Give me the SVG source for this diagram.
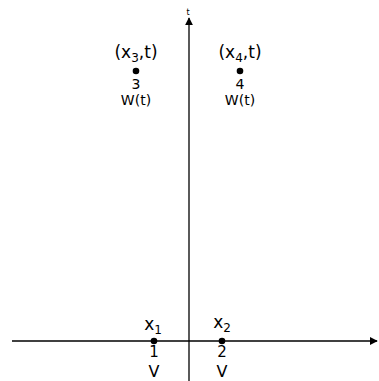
<svg xmlns="http://www.w3.org/2000/svg" width="379" height="381" viewBox="0 0 379 381">
<style>
.ax{stroke:#000;stroke-width:1.3;fill:none}
.lbl{font-family:"DejaVu Sans",sans-serif;fill:#000;text-anchor:middle}
.big{font-size:17px}
.mid{font-size:15px}
.v{font-size:16px}
.sm{font-size:14px}
</style>
<defs>
<marker id="ah" viewBox="0 0 10 10" refX="9" refY="5" markerWidth="8" markerHeight="8" markerUnits="userSpaceOnUse" orient="auto">
<path d="M0,0 L10,5 L0,10 z" fill="#000"/>
</marker>
</defs>
<rect width="379" height="381" fill="#fff"/>
<g id="connectors">
<line class="ax" x1="12" y1="341" x2="377" y2="341" marker-end="url(#ah)"/>
<line class="ax" x1="189" y1="381" x2="189" y2="18" marker-end="url(#ah)"/>
</g>
<text class="lbl" x="188" y="15" font-size="8">t</text>
<g id="n1">
<circle cx="154" cy="341" r="3.3" fill="#000"/>
<text class="lbl big" x="153" y="330">x<tspan font-size="12" dy="4">1</tspan></text>
<text class="lbl mid" x="154" y="357">1</text>
<text class="lbl v" x="154" y="377">V</text>
</g>
<g id="n2">
<circle cx="222" cy="341" r="3.3" fill="#000"/>
<text class="lbl big" x="222" y="328">x<tspan font-size="12" dy="4">2</tspan></text>
<text class="lbl mid" x="222" y="357">2</text>
<text class="lbl v" x="222" y="377">V</text>
</g>
<g id="n3">
<circle cx="136" cy="71" r="3.3" fill="#000"/>
<text class="lbl big" x="136" y="58">(x<tspan font-size="12" dy="4">3</tspan><tspan dy="-4">,t)</tspan></text>
<text class="lbl sm" x="136" y="89">3</text>
<text class="lbl sm" x="136" y="105">W(t)</text>
</g>
<g id="n4">
<circle cx="240" cy="71" r="3.3" fill="#000"/>
<text class="lbl big" x="240" y="58">(x<tspan font-size="12" dy="4">4</tspan><tspan dy="-4">,t)</tspan></text>
<text class="lbl sm" x="240" y="89">4</text>
<text class="lbl sm" x="240" y="105">W(t)</text>
</g>
</svg>
